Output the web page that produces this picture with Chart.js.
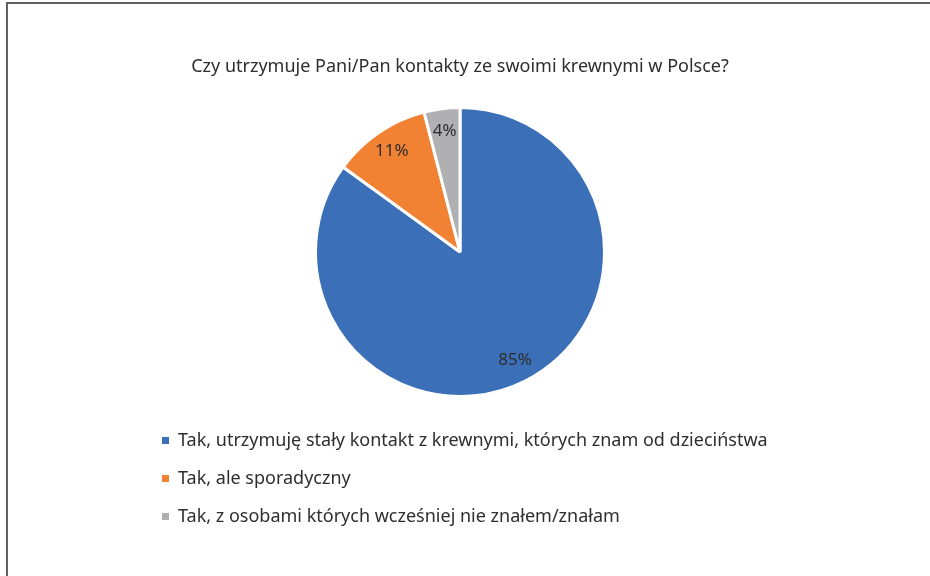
<!DOCTYPE html>
<html>
<head>
<meta charset="utf-8">
<script src="https://cdn.jsdelivr.net/npm/chart.js@4.4.0/dist/chart.umd.min.js"></script>
<style>
  html, body { margin: 0; padding: 0; background: #fff; }
  #wrap { position: relative; width: 930px; height: 576px; }
  #frame { position: absolute; left: 6px; top: 2px; right: 0; bottom: 0;
           border-top: 2px solid #606060; border-left: 2px solid #606060; pointer-events: none; }
</style>
</head>
<body>
<div id="wrap">
  <canvas id="chart" width="930" height="576"></canvas>
  <div id="frame"></div>
</div>
<script>
const TITLE = "Czy utrzymuje Pani/Pan kontakty ze swoimi krewnymi w Polsce?";
const labels = [
    "Tak, utrzymuję stały kontakt z krewnymi, których znam od dzieciństwa",
    "Tak, ale sporadyczny",
    "Tak, z osobami których wcześniej nie znałem/znałam"
];
const values = [85, 11, 4]; // %
const colors = ["#3b70b8", "#f28233", "#b0b0b3"];

const FONT = "'Noto Sans', sans-serif";
const TEXT = "#2e2e2e";

// percent labels inside the slices
const sliceLabels = {
    id: "sliceLabels",
    afterDatasetsDraw(chart) {
        const ctx = chart.ctx;
        const meta = chart.getDatasetMeta(0);
        ctx.save();
        ctx.font = "17px " + FONT;
        ctx.fillStyle = TEXT;
        ctx.textAlign = "center";
        ctx.textBaseline = "middle";
        meta.data.forEach((arc, i) => {
            const p = arc.getProps(["x", "y", "startAngle", "endAngle", "outerRadius"], true);
            const mid = (p.startAngle + p.endAngle) / 2;
            const r = p.outerRadius * 0.84;
            ctx.fillText(values[i] + "%", p.x + Math.cos(mid) * r, p.y + Math.sin(mid) * r);
        });
        ctx.restore();
    }
};

// legend as one column under the pie
const columnLegend = {
    id: "columnLegend",
    afterDraw(chart) {
        const ctx = chart.ctx;
        const left = 162, top = chart.chartArea.bottom + 43, gap = 38;
        ctx.save();
        ctx.font = "18px " + FONT;
        ctx.textBaseline = "middle";
        chart.data.labels.forEach((lab, i) => {
            const y = top + i * gap;
            ctx.fillStyle = chart.data.datasets[0].backgroundColor[i];
            ctx.fillRect(left, y - 4, 7, 7);
            ctx.fillStyle = TEXT;
            ctx.fillText(lab, left + 16, y);
        });
        ctx.restore();
    }
};

new Chart(document.getElementById("chart"), {
    type: "pie",
    data: {
        labels: labels,
        datasets: [{
            data: values,
            backgroundColor: colors,
            borderColor: "#ffffff",
            borderWidth: 3
        }]
    },
    options: {
        responsive: false,
        animation: false,
        layout: { padding: { right: 10, bottom: 178 } },
        plugins: {
            legend: { display: false },
            tooltip: { enabled: false },
            title: {
                display: true,
                text: TITLE,
                color: TEXT,
                font: { family: FONT, size: 18, weight: "normal" },
                padding: { top: 56.4, bottom: 28 }
            }
        }
    },
    plugins: [sliceLabels, columnLegend]
});
</script>
</body>
</html>
